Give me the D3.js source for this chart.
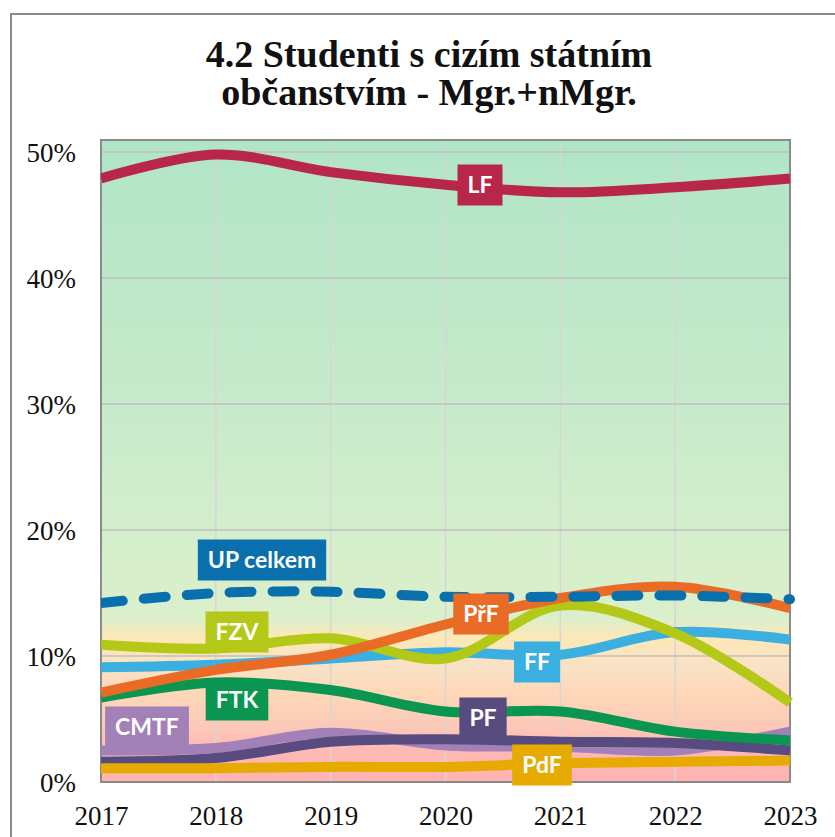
<!DOCTYPE html>
<html>
<head>
<meta charset="utf-8">
<script src="https://cdn.jsdelivr.net/npm/d3@7"></script>
<style>
  html, body { margin: 0; padding: 0; background: #fff; }
  svg { display: block; }
</style>
</head>
<body>
<svg id="chart" width="835" height="837"></svg>
<script>
// Share of students with foreign citizenship, Master's programmes, by faculty (%)
const years = [2017, 2018, 2019, 2020, 2021, 2022, 2023];
const yTicks = [0, 10, 20, 30, 40, 50];

const LF      = [47.9, 49.8, 48.4, 47.4, 46.8, 47.2, 47.9];
const UP      = [14.2, 15.0, 15.1, 14.7, 14.7, 14.8, 14.5];
const PrF     = [7.1, 8.9, 10.1, 12.5, 14.6, 15.5, 13.8];
const FZV     = [10.9, 10.6, 11.4, 9.8, 14.0, 11.8, 6.3];
const FF      = [9.1, 9.3, 9.8, 10.3, 10.1, 11.9, 11.3];
const FTK     = [6.7, 7.9, 7.3, 5.6, 5.6, 4.0, 3.3];
const CMTF    = [2.5, 2.7, 3.9, 2.9, 2.8, 2.5, 4.0];
const PF      = [1.6, 1.9, 3.2, 3.4, 3.2, 3.1, 2.5];
const PdF     = [1.1, 1.1, 1.2, 1.2, 1.5, 1.6, 1.7];

// drawing order (last on top)
const series = [
  { name: "CMTF",      values: CMTF, color: "#a280b8", label: [147, 727] },
  { name: "PF",        values: PF,   color: "#574b80", label: [483, 718] },
  { name: "PdF",       values: PdF,  color: "#e6aa00", label: [542, 765] },
  { name: "FTK",       values: FTK,  color: "#0a9650", label: [237, 700] },
  { name: "FF",        values: FF,   color: "#3bb0e0", label: [537, 662] },
  { name: "FZV",       values: FZV,  color: "#b3c817", label: [237, 632] },
  { name: "PřF",       values: PrF,  color: "#e96b25", label: [481, 614] },
  { name: "LF",        values: LF,   color: "#b8264a", label: [480, 185] },
  { name: "UP celkem", values: UP,   color: "#0a6fad", label: [262, 560], dashed: true }
];

const svg = d3.select("#chart");
const plotL = 101, plotR = 790, plotT = 140, plotB = 782;

const x = d3.scalePoint().domain(years).range([plotL, plotR]);
const y = d3.scaleLinear().domain([0, 50]).range([plotB, 152]);

// outer frame
svg.append("rect")
  .attr("x", 11).attr("y", 14).attr("width", 900).attr("height", 900)
  .attr("fill", "#fff").attr("stroke", "#8c8c8c").attr("stroke-width", 2);

// title
const title = svg.append("text")
  .attr("text-anchor", "middle")
  .attr("font-family", "'Liberation Serif', 'DejaVu Serif', serif")
  .attr("font-weight", "bold")
  .attr("font-size", 38)
  .attr("fill", "#111");
title.append("tspan").attr("x", 429).attr("y", 67).text("4.2 Studenti s cizím státním");
title.append("tspan").attr("x", 429).attr("y", 105).text("občanstvím - Mgr.+nMgr.");

// plot background gradient
const defs = svg.append("defs");
const grad = defs.append("linearGradient")
  .attr("id", "bg").attr("x1", 0).attr("y1", 0).attr("x2", 0).attr("y2", 1);
const stops = [
  [0.00, "#b1e5c7"],
  [0.40, "#c6eacb"],
  [0.66, "#d8efcc"],
  [0.745, "#daefcc"],
  [0.775, "#fde8b6"],
  [0.82, "#f9e2c6"],
  [0.86, "#fdd8b8"],
  [0.91, "#fccab8"],
  [0.95, "#feb9b4"],
  [1.00, "#ffb3b2"]
];
stops.forEach(([o, c]) => grad.append("stop").attr("offset", o).attr("stop-color", c));

svg.append("rect")
  .attr("x", plotL).attr("y", plotT)
  .attr("width", plotR - plotL).attr("height", plotB - plotT)
  .attr("fill", "url(#bg)");

// gridlines
svg.append("g").selectAll("line").data(years.slice(1, -1)).join("line")
  .attr("x1", d => x(d)).attr("x2", d => x(d))
  .attr("y1", plotT).attr("y2", plotB)
  .attr("stroke", "#d6d6d6").attr("stroke-width", 1.5);
svg.append("g").selectAll("line").data(yTicks.slice(1)).join("line")
  .attr("x1", plotL).attr("x2", plotR)
  .attr("y1", d => y(d)).attr("y2", d => y(d))
  .attr("stroke", "#bfbfbf").attr("stroke-width", 1.5);

// plot border
svg.append("rect")
  .attr("x", plotL).attr("y", plotT)
  .attr("width", plotR - plotL).attr("height", plotB - plotT)
  .attr("fill", "none").attr("stroke", "#8a8a8a").attr("stroke-width", 2);

// axes
const yAxis = d3.axisLeft(y).tickValues(yTicks).tickFormat(d => d + "%").tickSize(0).tickPadding(25);
const gy = svg.append("g").attr("transform", `translate(${plotL},0)`).call(yAxis);
gy.select(".domain").remove();
gy.selectAll("text")
  .attr("font-family", "'Liberation Serif', 'DejaVu Serif', serif")
  .attr("font-size", 27).attr("fill", "#111").attr("dy", "0.36em");

const xAxis = d3.axisBottom(x).tickSize(0).tickPadding(24).tickFormat(d3.format("d"));
const gx = svg.append("g").attr("transform", `translate(0,${plotB})`).call(xAxis);
gx.select(".domain").remove();
gx.selectAll("text")
  .attr("font-family", "'Liberation Serif', 'DejaVu Serif', serif")
  .attr("font-size", 27).attr("fill", "#111");

// lines
const line = d3.line()
  .x((d, i) => x(years[i]))
  .y(d => y(d))
  .curve(d3.curveCatmullRom.alpha(0.5));

const clip = defs.append("clipPath").attr("id", "plotclip");
clip.append("rect").attr("x", plotL).attr("y", plotT - 10).attr("width", plotR - plotL + 6).attr("height", plotB - plotT + 10);

const gl = svg.append("g").attr("clip-path", "url(#plotclip)");
series.forEach(s => {
  gl.append("path")
    .attr("d", line(s.values))
    .attr("fill", "none")
    .attr("stroke", s.color)
    .attr("stroke-width", 10)
    .attr("stroke-linecap", s.dashed ? "round" : "butt")
    .attr("stroke-dasharray", s.dashed ? "22,21" : null);
});

// series labels
const gLab = svg.append("g");
series.forEach(s => {
  const g = gLab.append("g").attr("transform", `translate(${s.label[0]},${s.label[1]})`);
  const t = g.append("text")
    .attr("text-anchor", "middle").attr("dy", "0.36em")
    .attr("font-family", "Lato, 'Open Sans', sans-serif")
    .attr("font-weight", "bold").attr("font-size", 23)
    .attr("fill", "#fff").text(s.name);
  const w = t.node().getComputedTextLength();
  g.insert("rect", "text")
    .attr("x", -w / 2 - 10).attr("y", -20.5)
    .attr("width", w + 20).attr("height", 41)
    .attr("fill", s.color);
});
</script>
</body>
</html>
